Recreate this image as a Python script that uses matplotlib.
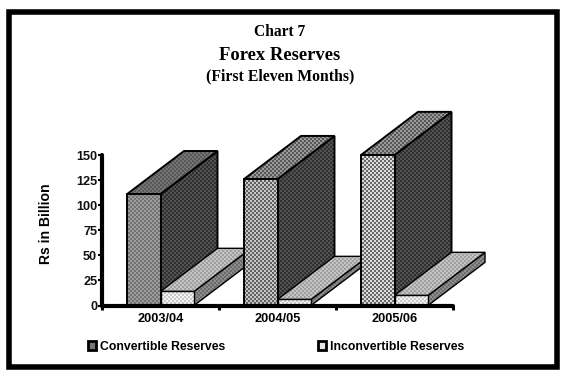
import numpy as np
import matplotlib
matplotlib.use("Agg")
import matplotlib.pyplot as plt
from matplotlib.patches import Polygon, Rectangle, Patch

categories = ["2003/04", "2004/05", "2005/06"]
convertible = [111, 126, 150]
inconvertible = [14, 6, 10]
y_ticks = [0, 25, 50, 75, 100, 125, 150]

W, H = 567, 377
L, R, T, B = 102, 453, 155, 305.5
fig = plt.figure(figsize=(W / 100, H / 100), dpi=100, facecolor="white")
ax = fig.add_axes([L / W, 1 - B / H, (R - L) / W, (B - T) / H])
ax.set_xlim(0, 3)
ax.set_ylim(0, 150)
ax.patch.set_alpha(0)

PXX = 3 / (R - L)      # data units per pixel, x
PXY = 150 / (B - T)    # data units per pixel, y
DEPTH_X = 57 * PXX
DEPTH_Y = 43
BAR_W = 33.5 * PXX
BAR_OFF = 25 * PXX

# dither texture covering the canvas, 2-pixel cells, so all faces stay on the pixel grid
yy_tex, xx_tex = np.indices((189, 284))
TEX = ((xx_tex + yy_tex) % 2).astype(float)
TEX_EXTENT = ((0 - L) * PXX, (568 - L) * PXX, (B - 378) * PXY, (B - 0) * PXY)


def textured(pts, c1, c2, z, lw=1.2):
    pts = np.array(pts, float)
    poly = Polygon(pts, closed=True, facecolor=c1, edgecolor="none", zorder=z, clip_on=False)
    ax.add_patch(poly)
    cmap = matplotlib.colors.ListedColormap([c1, c2])
    im = ax.imshow(TEX, extent=TEX_EXTENT, origin="upper", aspect="auto", cmap=cmap, vmin=0, vmax=1,
                   interpolation="nearest", zorder=z + 0.1)
    im.set_clip_box(fig.bbox)
    im.set_clip_path(poly)
    ax.add_patch(Polygon(pts, closed=True, facecolor="none", edgecolor="black", lw=lw,
                         joinstyle="miter", zorder=z + 0.2, clip_on=False))


def box(x, w, h, front, top, side, z, lw=1.2):
    dx, dy = DEPTH_X, DEPTH_Y
    textured([(x + w, 0), (x + w + dx, dy), (x + w + dx, h + dy), (x + w, h)], *side, z, lw)
    textured([(x, h), (x + w, h), (x + w + dx, h + dy), (x + dx, h + dy)], *top, z + 1, lw)
    textured([(x, 0), (x + w, 0), (x + w, h), (x, h)], *front, z + 2, lw)


big_front = [("#727272", "#9c9c9c"), ("#606060", "#c8c8c8"), ("#686868", "#dcdcdc")]
big_top = [("#585858", "#747474"), ("#585858", "#9a9a9a"), ("#585858", "#9a9a9a")]
big_side = ("#303030", "#525252")
small_front = ("#c8c8c8", "#f4f4f4")
small_top = ("#a0a0a0", "#c4c4c4")
small_side = ("#6c6c6c", "#8c8c8c")

for i in range(3):
    x = i + BAR_OFF
    z = 3 + i * 10
    box(x, BAR_W, convertible[i], big_front[i], big_top[i], big_side, z, lw=1.4)
    box(x + BAR_W, BAR_W, inconvertible[i], small_front, small_top, small_side, z + 4, lw=1.0)

ax.set_xlim(0, 3)
ax.set_ylim(0, 150)

for s in ("top", "right"):
    ax.spines[s].set_visible(False)
for s in ("left", "bottom"):
    ax.spines[s].set_linewidth(3)
    ax.spines[s].set_zorder(50)
    ax.spines[s].set_capstyle("round")

ax.set_yticks(y_ticks)
ax.set_xticks([0, 1, 2, 3])
ax.set_xticklabels([])
ax.set_xticks([0.5, 1.5, 2.5], minor=True)
ax.set_xticklabels(categories, minor=True, fontsize=9.2, fontweight="bold", family="Liberation Sans")
ax.tick_params(axis="x", which="major", length=3, width=2.2, direction="out")
ax.tick_params(axis="x", which="minor", length=0, pad=5.5)
ax.tick_params(axis="y", length=3, width=1.5, direction="out", pad=0.5,
               labelsize=9.2, labelcolor="#111111")
for t in ax.get_yticklabels():
    t.set_fontweight("bold")
    t.set_family("Liberation Sans")

fig.text(46 / W, 1 - 224 / H, "Rs in Billion", rotation=90, ha="center", va="center",
         fontsize=10.1, fontweight="bold", family="Liberation Sans")

for txt, yy, fs in [("Chart 7", 32, 11.2), ("Forex Reserves", 55.5, 13.4), ("(First Eleven Months)", 76, 11.3)]:
    fig.text(280 / W, 1 - yy / H, txt, ha="center", va="center", fontsize=fs,
             fontweight="bold", family="Liberation Serif")

handles = [Patch(facecolor="#777777", edgecolor="black", lw=2),
           Patch(facecolor="#e8e8e8", edgecolor="black", lw=2)]
fig.legend(handles, ["Convertible Reserves", "Inconvertible Reserves"], ncol=2, frameon=False,
           loc="center left", bbox_to_anchor=(88 / W, 1 - 346.5 / H),
           prop={"family": "Liberation Sans", "weight": "bold", "size": 8.8},
           handlelength=0.62, handleheight=0.75, handletextpad=0.35, columnspacing=7.6,
           borderpad=0, borderaxespad=0)

fig.add_artist(Rectangle((8.5 / W, 1 - 367 / H), 548.5 / W, 355.5 / H, transform=fig.transFigure,
                         facecolor="none", edgecolor="black", lw=4, joinstyle="miter"))

fig.savefig("out.png", dpi=100, facecolor="white")
